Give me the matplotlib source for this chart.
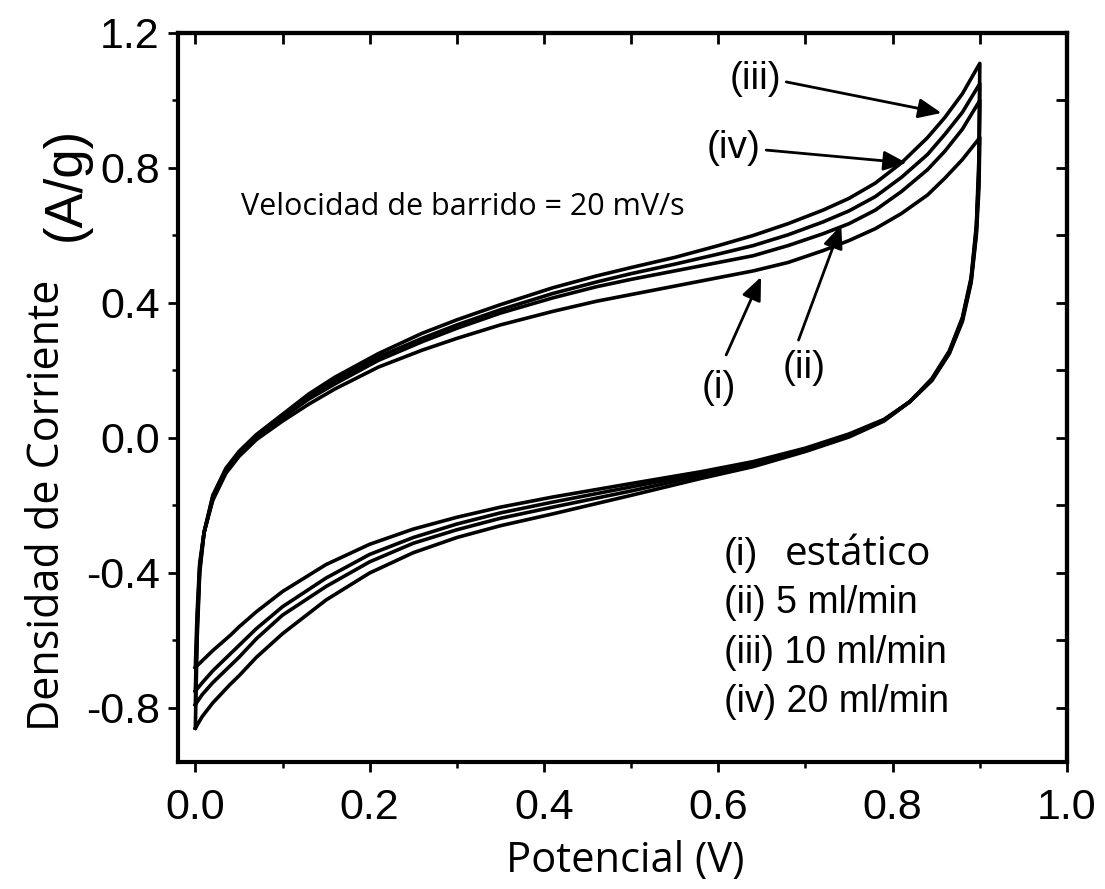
import matplotlib
matplotlib.use("Agg")
import matplotlib.pyplot as plt
from matplotlib.ticker import MultipleLocator

# anodic (forward) sweep, shared potential grid
x_up = [0, 0.002, 0.005, 0.01, 0.02, 0.035, 0.05, 0.07, 0.1, 0.13, 0.16, 0.21,
        0.26, 0.3, 0.35, 0.41, 0.46, 0.5, 0.55, 0.6, 0.64, 0.68, 0.72, 0.75,
        0.78, 0.81, 0.84, 0.86, 0.88, 0.9]
up_i = [-0.68, -0.52, -0.37, -0.28, -0.185, -0.105, -0.055, -0.005, 0.05, 0.10,
        0.145, 0.21, 0.26, 0.295, 0.335, 0.375, 0.405, 0.425, 0.45, 0.475, 0.495,
        0.52, 0.555, 0.585, 0.62, 0.665, 0.72, 0.77, 0.825, 0.89]
up_ii = [-0.75, -0.55, -0.38, -0.28, -0.18, -0.10, -0.05, 0.0, 0.06, 0.115,
         0.16, 0.23, 0.285, 0.325, 0.37, 0.415, 0.448, 0.47, 0.495, 0.52, 0.54,
         0.57, 0.605, 0.635, 0.675, 0.73, 0.795, 0.85, 0.915, 1.0]
up_iii = [-0.86, -0.60, -0.40, -0.28, -0.17, -0.09, -0.04, 0.01, 0.07, 0.13,
          0.18, 0.25, 0.31, 0.35, 0.395, 0.445, 0.48, 0.505, 0.535, 0.57, 0.60,
          0.635, 0.675, 0.71, 0.755, 0.815, 0.89, 0.95, 1.02, 1.11]
up_iv = [-0.79, -0.57, -0.39, -0.28, -0.175, -0.095, -0.045, 0.005, 0.065, 0.12,
         0.17, 0.24, 0.295, 0.335, 0.38, 0.428, 0.462, 0.487, 0.515, 0.545, 0.57,
         0.602, 0.64, 0.673, 0.715, 0.772, 0.84, 0.9, 0.965, 1.05]

# cathodic (reverse) sweep
x_dn = [0.9, 0.899, 0.896, 0.89, 0.88, 0.865, 0.845, 0.82, 0.79, 0.75, 0.7,
        0.64, 0.58, 0.5, 0.41, 0.35, 0.3, 0.25, 0.2, 0.15, 0.1, 0.07, 0.05,
        0.04, 0.02, 0.008, 0]
dn_i = [0.89, 0.74, 0.60, 0.46, 0.345, 0.25, 0.17, 0.108, 0.055, 0.012, -0.03,
        -0.07, -0.10, -0.135, -0.175, -0.205, -0.235, -0.27, -0.315, -0.375, -0.455,
        -0.515, -0.56, -0.585, -0.63, -0.66, -0.68]
dn_ii = [1.00, 0.78, 0.61, 0.465, 0.35, 0.252, 0.172, 0.108, 0.053, 0.009,
         -0.033, -0.075, -0.105, -0.145, -0.19, -0.222, -0.255, -0.295, -0.345,
         -0.415, -0.50, -0.565, -0.615, -0.64, -0.69, -0.725, -0.75]
dn_iii = [1.11, 0.83, 0.63, 0.475, 0.357, 0.258, 0.176, 0.108, 0.05, 0.003,
          -0.04, -0.085, -0.12, -0.17, -0.225, -0.26, -0.295, -0.34, -0.4,
          -0.48, -0.58, -0.65, -0.705, -0.73, -0.785, -0.825, -0.86]
dn_iv = [1.05, 0.80, 0.62, 0.47, 0.353, 0.255, 0.174, 0.108, 0.052, 0.006, -0.036,
         -0.08, -0.112, -0.157, -0.205, -0.238, -0.272, -0.312, -0.367, -0.44, -0.525,
         -0.595, -0.65, -0.675, -0.725, -0.76, -0.79]

tags = ["(i)", "(ii)", "(iii)", "(iv)"]
flows = ["estático", "5 ml/min", "10 ml/min", "20 ml/min"]
ups = [up_i, up_ii, up_iii, up_iv]
dns = [dn_i, dn_ii, dn_iii, dn_iv]

fig = plt.figure(figsize=(11.05, 8.89), dpi=100)
ax = fig.add_axes([0.161, 0.1429, 0.8046, 0.82])

for u, d in zip(ups, dns):
    ax.plot(x_up + x_dn, u + d, color="k", lw=2.6, solid_joinstyle="round")

ax.set_xlim(-0.02, 1.0)
ax.set_ylim(-0.96, 1.2)

for s in ax.spines.values():
    s.set_linewidth(3)
ax.xaxis.set_minor_locator(MultipleLocator(0.1))
ax.yaxis.set_minor_locator(MultipleLocator(0.2))
ax.tick_params(which="major", direction="out", length=7, width=2)
ax.tick_params(which="minor", direction="out", length=4, width=1.8)
ax.tick_params(axis="x", pad=12)
ax.tick_params(axis="y", pad=6)
ax.set_xticks([0.0, 0.2, 0.4, 0.6, 0.8, 1.0])
ax.set_xticklabels(["0.0", "0.2", "0.4", "0.6", "0.8", "1.0"],
                   family="Liberation Sans", fontsize=31)
ax.set_yticks([-0.8, -0.4, 0.0, 0.4, 0.8, 1.2])
ax.set_yticklabels(["-0.8", "-0.4", "0.0", "0.4", "0.8", "1.2"],
                   family="Liberation Sans", fontsize=31)

top = ax.secondary_xaxis("top")
top.xaxis.set_major_locator(MultipleLocator(0.2))
top.xaxis.set_minor_locator(MultipleLocator(0.1))
top.tick_params(which="both", direction="in", length=8, width=2, labeltop=False)
right = ax.secondary_yaxis("right")
right.yaxis.set_major_locator(MultipleLocator(0.4))
right.yaxis.set_minor_locator(MultipleLocator(0.2))
right.tick_params(which="both", direction="in", length=8, width=2, labelright=False)
for sa in (top, right):
    for s in sa.spines.values():
        s.set_linewidth(3)

# axis labels
fig.text(0.5656, 0.0191, "Potencial (V)", family="Open Sans", fontsize=30,
         ha="center", va="baseline")
fig.text(0.0434, 0.432, "Densidad de Corriente", family="Open Sans", fontsize=31,
         rotation=90, ha="center", va="center")
fig.text(0.0597, 0.793, "(A/g)", family="Liberation Sans", fontsize=38,
         rotation=90, ha="center", va="center")

ax.text(0.052, 0.661, "Velocidad de barrido = 20 mV/s", family="Open Sans",
        fontsize=22, va="baseline")

# legend block written as text
ax.text(0.606, -0.376, tags[0], family="Liberation Sans", fontsize=28, va="baseline")
ax.text(0.676, -0.376, flows[0], family="Open Sans", fontsize=29, va="baseline")
legend_y = [-0.519, -0.667, -0.812]
for t, f, yy in zip(tags[1:], flows[1:], legend_y):
    ax.text(0.606, yy, t + " " + f, family="Liberation Sans", fontsize=27,
            va="baseline")

# curve callouts
callouts = [
    ("(iii)", (0.643, 1.064), (0.678, 1.055), (0.856, 0.963)),
    ("(iv)", (0.618, 0.859), (0.655, 0.853), (0.816, 0.815)),
    ("(i)", (0.601, 0.148), (0.609, 0.246), (0.649, 0.477)),
    ("(ii)", (0.698, 0.207), (0.692, 0.290), (0.741, 0.631)),
]
for t, tpos, start, tip in callouts:
    ax.text(tpos[0], tpos[1], t, family="Liberation Sans", fontsize=28,
            ha="center", va="center")
    ax.annotate("", xy=tip, xytext=start,
                arrowprops=dict(arrowstyle="-|>,head_length=0.7,head_width=0.3",
                                lw=2, color="k", shrinkA=0, shrinkB=0,
                                mutation_scale=20))

fig.savefig("out.png", dpi=100)
